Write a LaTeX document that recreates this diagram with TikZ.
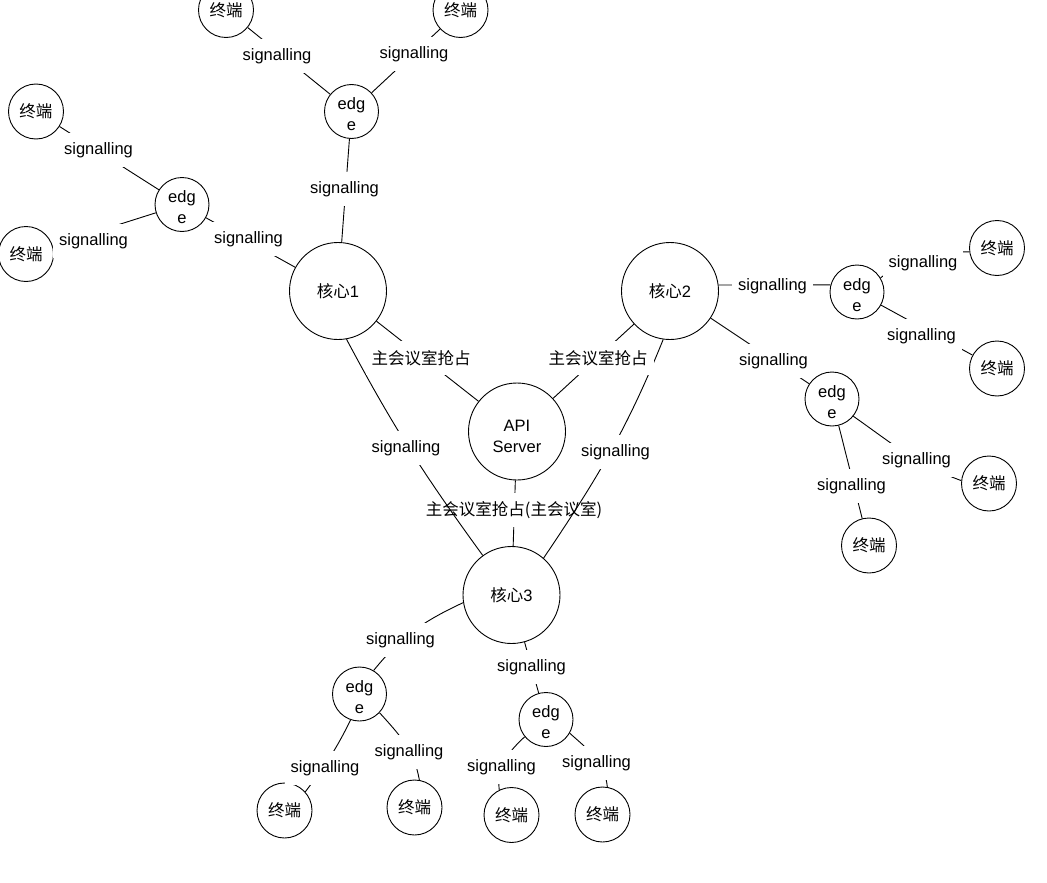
\documentclass[tikz,border=0pt]{standalone}
\usepackage{fontspec}
\setmainfont{Liberation Sans}
\newfontfamily\cjk{Noto Sans CJK SC}
\newcommand\tallstrut[1]{\rule{0pt}{#1}}
\begin{document}
\begin{tikzpicture}[x=1pt,y=1pt,
  every node/.style={font=\fontsize{16.5}{21}\selectfont},
  term/.style={circle,draw,line width=0.9pt,minimum size=55pt,inner sep=0pt},
  edgenode/.style={circle,draw,line width=0.9pt,minimum size=54pt,inner sep=0pt,align=center},
  core/.style={circle,draw,line width=0.9pt,minimum size=97pt,inner sep=0pt,align=center},
  lab/.style={fill=white,inner xsep=6pt,inner ysep=0pt,minimum height=34pt},
  conn/.style={line width=0.9pt}]
\useasboundingbox (0,0) rectangle (1047,-883);
\clip (0,0) rectangle (1047,-883);
% nodes
\node[term] (ttl) at (226,-10) {\cjk 终端};
\node[term] (ttr) at (460.5,-10) {\cjk 终端};
\node[edgenode] (etop) at (351.5,-111.5) {\tallstrut{18pt}edg\\e};
\node[term] (tl1) at (36,-111.5) {\cjk 终端};
\node[term] (tl2) at (26,-254) {\cjk 终端};
\node[edgenode] (el) at (182,-204.5) {\tallstrut{18pt}edg\\e};
\node[core] (c1) at (338,-291) {{\cjk 核心}1};
\node[core] (c2) at (670,-291) {{\cjk 核心}2};
\node[core] (api) at (517,-431.5) {\tallstrut{21pt}API\\Server};
\node[core] (c3) at (511.5,-595) {{\cjk 核心}3};
\node[edgenode] (er1) at (857,-292) {\tallstrut{18pt}edg\\e};
\node[term] (tr1) at (997,-248) {\cjk 终端};
\node[term] (tr2) at (997,-368.5) {\cjk 终端};
\node[edgenode] (er2) at (832,-399) {\tallstrut{18pt}edg\\e};
\node[term] (tr3) at (989,-483.5) {\cjk 终端};
\node[term] (tr4) at (869,-545.5) {\cjk 终端};
\node[edgenode] (ebl) at (359.5,-694) {\tallstrut{18pt}edg\\e};
\node[edgenode] (ebr) at (546,-719.5) {\tallstrut{18pt}edg\\e};
\node[term] (tbl1) at (284.5,-810.5) {\cjk 终端};
\node[term] (tbl2) at (414.5,-807.5) {\cjk 终端};
\node[term] (tbr1) at (511.5,-815) {\cjk 终端};
\node[term] (tbr2) at (602.5,-814.5) {\cjk 终端};
% connector API - core 3 with its label (crossed later by the two curves)
\draw[conn] (api) -- (c3);
\node[lab] (l11) at (514,-510) {\cjk 主会议室抢占(主会议室)};
% connectors
\draw[conn] (ttl) -- (etop);
\draw[conn] (ttr) -- (etop);
\draw[conn] (etop) -- (c1);
\draw[conn] (tl1) -- (el);
\draw[conn] (tl2) -- (el);
\draw[conn] (el) -- (c1);
\draw[conn] (c1) -- (api);
\draw[conn] (c2) -- (api);
\draw[conn] (c1.-80) to[out=-62,in=126] (c3.126);
\draw[conn] (c2.-98) to[out=-112,in=56] (c3.49);
\draw[conn] (c2.7) -- (er1.165);
\draw[conn] (er1.31) to[out=37,in=180] (tr1.188);
\draw[conn] (er1) -- (tr2);
\draw[conn] (c2) -- (er2);
\draw[conn] (er2.-39) to[out=-35,in=160] (tr3.174);
\draw[conn] (er2) -- (tr4);
\draw[conn] (c3.189) to[out=205,in=51] (ebl.59);
\draw[conn] (c3) -- (ebr);
\draw[conn] (ebl.-109) to[out=-116,in=53] (tbl1.42);
\draw[conn] (ebl.-43) to[out=-48,in=100] (tbl2.80);
\draw[conn] (ebr.-141) to[out=-137,in=97] (tbr1.116);
\draw[conn] (ebr.-30) to[out=-42,in=96] (tbr2.80);
% labels
\node[lab] (l1) at (277,-56) {signalling};
\node[lab] (l2) at (414,-54) {signalling};
\node[lab] (l3) at (344.5,-189) {signalling};
\node[lab] (l4) at (98.5,-150) {signalling};
\node[lab] (l5) at (93.5,-241) {signalling};
\node[lab] (l6) at (248.5,-239) {signalling};
\node[lab] (l7) at (421,-358) {\cjk 主会议室抢占};
\node[lab] (l8) at (598,-358) {\cjk 主会议室抢占};
\node[lab] (l9) at (406,-448) {signalling};
\node[lab] (l10) at (615.5,-452) {signalling};
\node[lab] (l12) at (772.5,-286) {signalling};
\node[lab] (l13) at (923,-263) {signalling};
\node[lab] (l14) at (921.5,-336) {signalling};
\node[lab] (l15) at (773.5,-361) {signalling};
\node[lab] (l16) at (916.5,-460) {signalling};
\node[lab] (l17) at (851.5,-486) {signalling};
\node[lab] (l18) at (400.5,-640) {signalling};
\node[lab] (l19) at (531.5,-667) {signalling};
\node[lab] (l20) at (325,-768) {signalling};
\node[lab] (l21) at (409,-752) {signalling};
\node[lab] (l22) at (501.5,-767) {signalling};
\node[lab] (l23) at (596.5,-763) {signalling};
\end{tikzpicture}
\end{document}
